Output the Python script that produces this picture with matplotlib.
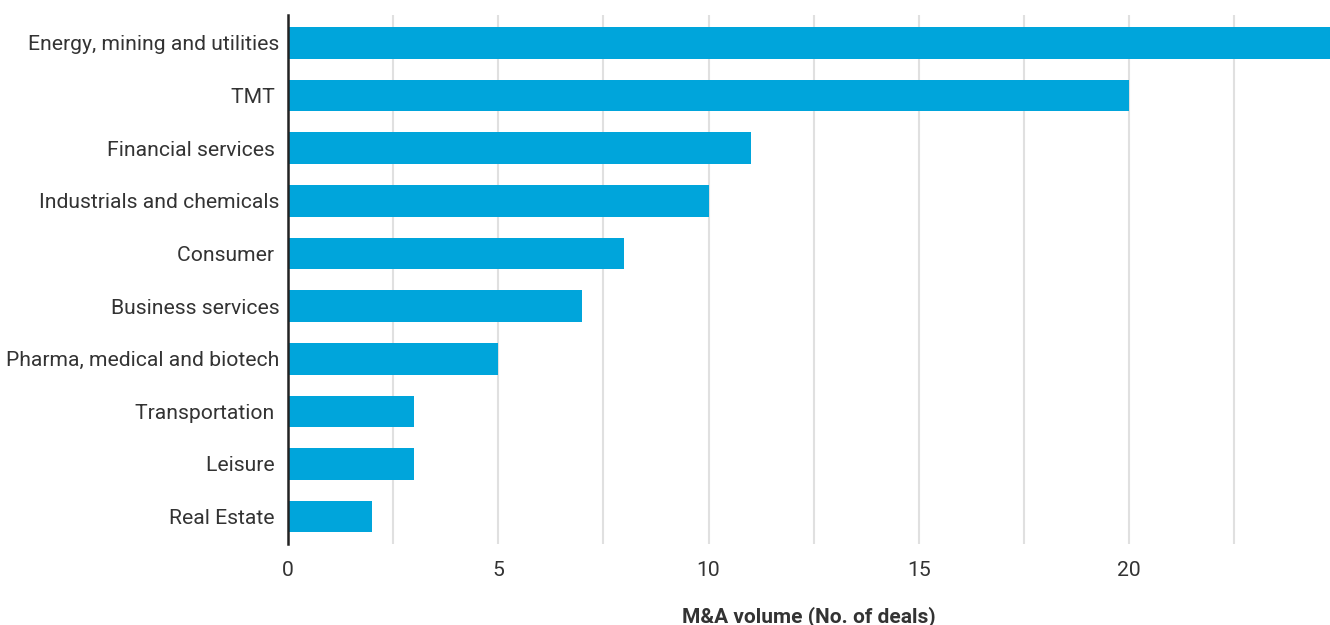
import matplotlib

matplotlib.use("Agg")
import matplotlib.pyplot as plt
import numpy as np
from matplotlib.ticker import MultipleLocator

# sector labels, top to bottom (trailing spaces as in the source)
sectors = [
    "Energy, mining and utilities",
    "TMT ",
    "Financial services ",
    "Industrials and chemicals",
    "Consumer ",
    "Business services",
    "Pharma, medical and biotech",
    "Transportation ",
    "Leisure ",
    "Real Estate ",
]
deals = [25, 20, 11, 10, 8, 7, 5, 3, 3, 2]
tick_values = [0, 5, 10, 15, 20]

plt.rcParams["font.family"] = ["Roboto", "DejaVu Sans"]

fig = plt.figure(figsize=(13.3, 6.25), dpi=100)
ax = fig.add_axes([288 / 1330, 1 - 544 / 625, 1 - 288 / 1330, (544 - 15) / 625])

y = np.arange(len(sectors))
ax.barh(y, deals, height=0.6, color="#00a5db", zorder=2)

ax.set_xlim(0, 24.78)
ax.set_ylim(len(sectors) - 0.48, -0.53)
ax.set_yticks(y)
ax.set_yticklabels(sectors, fontsize=15.2, color="#333333")
ax.set_xticks(tick_values)
ax.set_xticklabels([str(v) for v in tick_values], fontsize=15.2, color="#333333")
ax.xaxis.set_minor_locator(MultipleLocator(2.5))
ax.tick_params(axis="both", which="both", length=0)
ax.tick_params(axis="x", pad=12)
ax.tick_params(axis="y", pad=6)

ax.grid(axis="x", which="both", color="#e0e0e0", linewidth=1.5, zorder=0)
for side in ("top", "right", "bottom"):
    ax.spines[side].set_visible(False)
ax.spines["left"].set_color("#222222")
ax.spines["left"].set_linewidth(1.8)
ax.spines["left"].set_zorder(3)

ax.set_xlabel("M&A volume (No. of deals)", fontsize=15, fontweight="bold",
              color="#333333", labelpad=19)

fig.savefig("out.png", dpi=100)
